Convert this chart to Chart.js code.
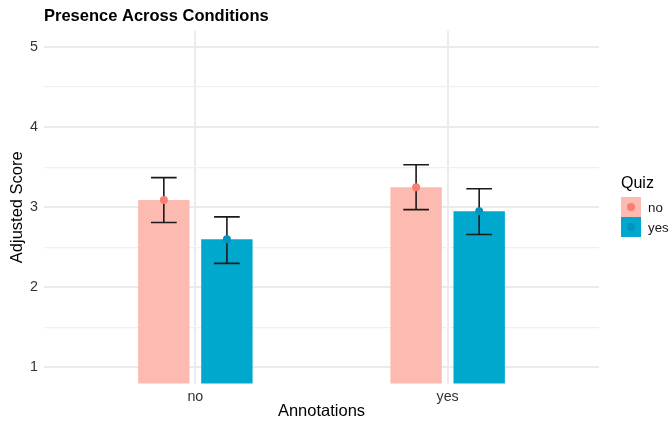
<!DOCTYPE html>
<html>
<head>
<meta charset="utf-8">
<script src="https://cdn.jsdelivr.net/npm/chart.js@4/dist/chart.umd.min.js"></script>
<style>
  html, body { margin:0; padding:0; background:#fff; }
  #wrap { position:relative; width:670px; height:425px; font-family:"Liberation Sans", Arial, sans-serif; }
  #legend { position:absolute; left:621px; top:173px; }
  #legend .ttl { font-size:16px; color:#000; height:24px; line-height:20px; }
  #legend .row { display:flex; align-items:center; height:20px; }
  #legend .key { position:relative; width:20px; height:20px; }
  #legend .dot { position:absolute; left:6px; top:6px; width:8px; height:8px; border-radius:50%; }
  #legend .lab { font-size:13.3px; color:#1a1a1a; margin-left:7px; }
</style>
</head>
<body>
<div id="wrap">
  <canvas id="chart" width="670" height="425"></canvas>
  <div id="legend"></div>
</div>
<script>
// Annotations (x categories) and Quiz groups
const categories = ['no', 'yes'];
const catPos = [1, 2];
const quizGroups = ['no', 'yes'];

// Adjusted score means and error bar limits, per quiz group, per annotation
const meanQuizNo  = [3.09, 3.25];
const meanQuizYes = [2.60, 2.95];
const hiQuizNo  = [3.37, 3.53];
const loQuizNo  = [2.81, 2.97];
const hiQuizYes = [2.88, 3.23];
const loQuizYes = [2.30, 2.66];

const yTicks = [1, 1.5, 2, 2.5, 3, 3.5, 4, 4.5, 5];

const barColors = ['#FDBAB1', '#00A8CE'];
const dotColors = ['#F98070', '#0094BE'];

const means = [meanQuizNo, meanQuizYes];
const highs = [hiQuizNo, hiQuizYes];
const lows  = [loQuizNo, loQuizYes];

const errorBars = {
  id: 'errorBars',
  afterDatasetsDraw(chart) {
    const ctx = chart.ctx;
    const y = chart.scales.y;
    chart.data.datasets.forEach((ds, d) => {
      const meta = chart.getDatasetMeta(d);
      meta.data.forEach((bar, i) => {
        const x = bar.x;
        const half = bar.width / 4;
        const yHi = y.getPixelForValue(highs[d][i]);
        const yLo = y.getPixelForValue(lows[d][i]);
        ctx.save();
        ctx.strokeStyle = '#1a1a1a';
        ctx.lineWidth = 1.6;
        ctx.beginPath();
        ctx.moveTo(x, yHi); ctx.lineTo(x, yLo);
        ctx.moveTo(x - half, yHi); ctx.lineTo(x + half, yHi);
        ctx.moveTo(x - half, yLo); ctx.lineTo(x + half, yLo);
        ctx.stroke();
        ctx.fillStyle = dotColors[d];
        ctx.beginPath();
        ctx.arc(x, y.getPixelForValue(means[d][i]), 4, 0, Math.PI * 2);
        ctx.fill();
        ctx.restore();
      });
    });
  }
};

const font = '"Liberation Sans", Arial, sans-serif';

new Chart(document.getElementById('chart'), {
  type: 'bar',
  data: {
    datasets: quizGroups.map((g, d) => ({
      label: g,
      data: catPos.map((x, i) => ({ x, y: means[d][i] })),
      backgroundColor: barColors[d],
      borderWidth: 0,
      categoryPercentage: 0.5,
      barPercentage: 0.815
    }))
  },
  options: {
    responsive: false,
    animation: false,
    events: [],
    layout: { padding: { left: 0, right: 71, top: 0, bottom: 0 } },
    plugins: {
      legend: { display: false },
      tooltip: { enabled: false },
      title: {
        display: true,
        text: 'Presence Across Conditions',
        align: 'start',
        fullSize: false,
        color: '#000',
        font: { family: font, size: 16.5, weight: 'bold' },
        padding: { top: 6.5, bottom: 4.7 }
      }
    },
    scales: {
      x: {
        type: 'linear',
        min: 0.4,
        max: 2.6,
        offset: false,
        bounds: 'data',
        grid: { offset: false, color: '#EBEBEB', lineWidth: 2, drawTicks: false },
        border: { display: false },
        afterBuildTicks: s => { s.ticks = catPos.map(v => ({ value: v })); },
        afterFit: s => { s.height = 41.5; },
        ticks: {
          padding: 4.6,
          color: '#333',
          font: { family: font, size: 14.3 },
          callback: (v, i) => categories[i]
        },
        title: {
          display: true,
          text: 'Annotations',
          color: '#000',
          font: { family: font, size: 16.5 },
          padding: { top: 0, bottom: 4 }
        }
      },
      y: {
        min: 0.8,
        max: 5.2,
        bounds: 'data',
        grid: {
          drawTicks: false,
          color: c => Number.isInteger(c.tick.value) ? '#EBEBEB' : '#F0F0F0',
          lineWidth: c => Number.isInteger(c.tick.value) ? 2 : 1.3
        },
        border: { display: false },
        afterBuildTicks: s => { s.ticks = yTicks.map(v => ({ value: v })); },
        afterFit: s => { s.width = 44; },
        ticks: {
          padding: 6,
          color: '#333',
          font: { family: font, size: 14.3 },
          callback: v => Number.isInteger(v) ? String(v) : ''
        },
        title: {
          display: true,
          text: 'Adjusted Score',
          color: '#000',
          font: { family: font, size: 16.5 },
          padding: { top: 8, bottom: 0 }
        }
      }
    }
  },
  plugins: [errorBars]
});

// legend
const legend = document.getElementById('legend');
let html = '<div class="ttl">Quiz</div>';
quizGroups.forEach((g, d) => {
  html += '<div class="row"><div class="key" style="background:' + barColors[d] + '">' +
          '<div class="dot" style="background:' + dotColors[d] + '"></div></div>' +
          '<span class="lab">' + g + '</span></div>';
});
legend.innerHTML = html;
</script>
</body>
</html>
